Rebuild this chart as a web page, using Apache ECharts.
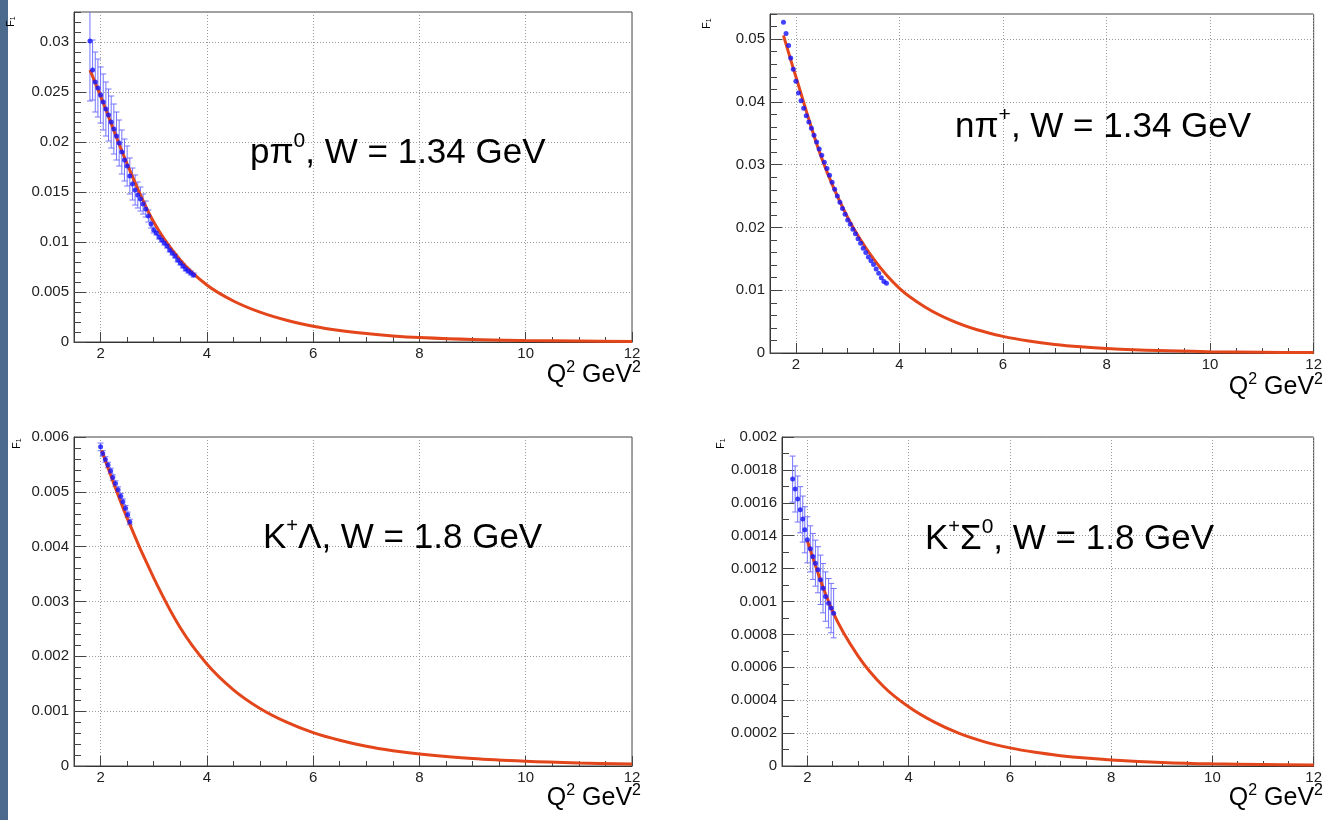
<!DOCTYPE html>
<html><head><meta charset="utf-8">
<script src="https://cdn.jsdelivr.net/npm/echarts@6/dist/echarts.min.js"></script>
<style>html,body{margin:0;padding:0;background:#fff}#chart{width:1325px;height:820px}</style>
</head><body><div id="chart"></div>
<script>
// ---------------- DATA ----------------
const xMajorTicks = [2, 4, 6, 8, 10, 12];

// p pi0, W = 1.34 GeV
const yTicks_ppi0 = [0, 0.005, 0.01, 0.015, 0.02, 0.025, 0.03];
const fitQ2_ppi0 = [1.8, 2.0, 2.5, 3.0, 3.5, 4.0, 4.5, 5, 5.5, 6, 6.5, 7, 7.5, 8, 9, 10, 11, 12];
const fitF1_ppi0 = [0.0272, 0.0246, 0.0178, 0.0120, 0.0082, 0.0057, 0.0041, 0.00298, 0.00217, 0.00158, 0.00115, 0.00084, 0.00061, 0.00045, 0.00025, 0.00015, 0.000093, 0.000058];
const q2_ppi0 = [1.80, 1.85, 1.90, 1.95, 2.00, 2.05, 2.10, 2.15, 2.20, 2.25, 2.30, 2.35, 2.40, 2.45, 2.50, 2.55, 2.60, 2.65, 2.70, 2.75, 2.80, 2.85, 2.90, 2.95, 3.00, 3.05, 3.10, 3.15, 3.20, 3.25, 3.30, 3.35, 3.40, 3.45, 3.50, 3.55, 3.60, 3.65, 3.70, 3.75];
const f1_ppi0 = [0.0301, 0.0272, 0.0260, 0.0254, 0.0247, 0.0240, 0.0233, 0.0227, 0.0220, 0.0213, 0.0206, 0.0199, 0.0190, 0.0182, 0.0176, 0.0166, 0.0158, 0.0152, 0.0147, 0.0143, 0.0138, 0.0133, 0.0126, 0.0118, 0.0112, 0.0109, 0.0105, 0.0102, 0.0099, 0.0096, 0.0092, 0.0089, 0.0086, 0.0082, 0.0079, 0.0076, 0.0073, 0.0071, 0.0069, 0.0067];
const err_ppi0 = [0.0060, 0.0030, 0.0030, 0.0029, 0.0028, 0.0028, 0.0027, 0.0026, 0.0026, 0.0025, 0.0024, 0.0023, 0.0022, 0.0021, 0.0020, 0.0018, 0.0016, 0.0015, 0.0013, 0.0012, 0.0010, 0.0008, 0.0006, 0.0004, 0.0003, 0.0002, 0.0002, 0.0002, 0.0002, 0.0002, 0.0002, 0.0002, 0.0002, 0.0002, 0.0002, 0.0002, 0.0002, 0.0002, 0.0002, 0.0002];

// n pi+, W = 1.34 GeV
const yTicks_npip = [0, 0.01, 0.02, 0.03, 0.04, 0.05];
const fitQ2_npip = [1.76, 2.0, 2.5, 3.0, 3.5, 4.0, 4.5, 5, 5.5, 6, 6.5, 7, 7.5, 8, 9, 10, 11, 12];
const fitF1_npip = [0.0506, 0.0440, 0.0310, 0.0216, 0.0150, 0.0103, 0.0073, 0.0052, 0.0037, 0.00265, 0.0019, 0.00136, 0.00098, 0.00071, 0.00038, 0.00021, 0.00012, 0.00007];
const q2_npip = [1.76, 1.81, 1.86, 1.90, 1.95, 2.00, 2.05, 2.10, 2.15, 2.20, 2.25, 2.30, 2.35, 2.40, 2.45, 2.50, 2.55, 2.60, 2.65, 2.70, 2.75, 2.80, 2.85, 2.90, 2.95, 3.00, 3.05, 3.10, 3.15, 3.20, 3.25, 3.30, 3.35, 3.40, 3.45, 3.50, 3.55, 3.60, 3.65, 3.70, 3.75];
const f1_npip = [0.0527, 0.0509, 0.0490, 0.0470, 0.0452, 0.0433, 0.0414, 0.0402, 0.0390, 0.0378, 0.0368, 0.0358, 0.0347, 0.0336, 0.0325, 0.0315, 0.0304, 0.0294, 0.0283, 0.0272, 0.0261, 0.0250, 0.0240, 0.0230, 0.0221, 0.0212, 0.0205, 0.0197, 0.0190, 0.0182, 0.0175, 0.0167, 0.0160, 0.0153, 0.0147, 0.0141, 0.0134, 0.0127, 0.0120, 0.0114, 0.0111];
const err_npip = [];

// K+ Lambda, W = 1.8 GeV
const yTicks_klam = [0, 0.001, 0.002, 0.003, 0.004, 0.005, 0.006];
const fitQ2_klam = [2.02, 2.5, 3.0, 3.5, 4.0, 4.5, 5, 5.5, 6, 6.5, 7, 7.5, 8, 9, 10, 11, 12];
const fitF1_klam = [0.00576, 0.00452, 0.00343, 0.00252, 0.00186, 0.00139, 0.00105, 0.00080, 0.00061, 0.00047, 0.00036, 0.00028, 0.00022, 0.000135, 0.000086, 0.000056, 0.000037];
const q2_klam = [2.00, 2.04, 2.09, 2.14, 2.19, 2.23, 2.28, 2.33, 2.38, 2.42, 2.47, 2.51, 2.55];
const f1_klam = [0.00582, 0.00570, 0.00559, 0.00549, 0.00538, 0.00526, 0.00515, 0.00504, 0.00492, 0.00482, 0.00470, 0.00458, 0.00445];
const err_klam = [0.00007, 0.00005, 0.00005, 0.00005, 0.00005, 0.00005, 0.00005, 0.00005, 0.00005, 0.00005, 0.00005, 0.00005, 0.00005];

// K+ Sigma0, W = 1.8 GeV
const yTicks_ksig = [0, 0.0002, 0.0004, 0.0006, 0.0008, 0.001, 0.0012, 0.0014, 0.0016, 0.0018, 0.002];
const fitQ2_ksig = [2.0, 2.5, 3.0, 3.5, 4.0, 4.5, 5, 5.5, 6, 6.5, 7, 7.5, 8, 9, 10, 11, 12];
const fitF1_ksig = [0.00137, 0.00094, 0.00067, 0.000485, 0.00036, 0.000268, 0.000198, 0.000147, 0.00011, 0.000083, 0.000063, 0.000048, 0.000037, 0.000022, 0.000013, 0.0000085, 0.0000055];
const q2_ksig = [1.71, 1.76, 1.81, 1.86, 1.91, 1.95, 2.00, 2.06, 2.11, 2.16, 2.21, 2.26, 2.31, 2.36, 2.42, 2.47, 2.52];
const f1_ksig = [0.001744, 0.001684, 0.001623, 0.001558, 0.001501, 0.001436, 0.001375, 0.00132, 0.001274, 0.001233, 0.001193, 0.001132, 0.001081, 0.00103, 0.00099, 0.00096, 0.000929];
const err_ksig = [0.00014, 0.00014, 0.00014, 0.00014, 0.00014, 0.00014, 0.00014, 0.00014, 0.00014, 0.00014, 0.00014, 0.00015, 0.00015, 0.00015, 0.00015, 0.00015, 0.00015];

const titleTexts = [
  '{m|pπ}{s|0}{m|, W = 1.34 GeV}',
  '{m|nπ}{s|+}{m|, W = 1.34 GeV}',
  '{m|K}{p|+}{m|Λ, W = 1.8 GeV}',
  '{m|K}{p|+}{m|Σ}{s|0}{m|, W = 1.8 GeV}'
];
const xTitleText = '{m|Q}{s|2}{m| GeV}{s|2}';
const yTitleText = '{f|F}{b|1}';

// ---------------- LAYOUT ----------------
const panels = [
  { grid: { left: 74, top: 12, width: 558, height: 330 }, yMax: 0.033, yMinor: 0.001,
    yTicks: yTicks_ppi0, fx: fitQ2_ppi0, fy: fitF1_ppi0, dx: q2_ppi0, dy: f1_ppi0, de: err_ppi0,
    title: [250, 131], xt: [641, 360], yt: [11, 27] },
  { grid: { left: 770, top: 14, width: 545, height: 339 }, yMax: 0.054, yMinor: 0.002,
    yTicks: yTicks_npip, fx: fitQ2_npip, fy: fitF1_npip, dx: q2_npip, dy: f1_npip, de: err_npip,
    title: [955, 105], xt: [1323, 372], yt: [707, 29] },
  { grid: { left: 74, top: 437, width: 558, height: 329 }, yMax: 0.006, yMinor: 0.0002,
    yTicks: yTicks_klam, fx: fitQ2_klam, fy: fitF1_klam, dx: q2_klam, dy: f1_klam, de: err_klam,
    title: [263, 516], xt: [641, 783], yt: [17, 449] },
  { grid: { left: 782, top: 437, width: 534, height: 329 }, yMax: 0.002, yMinor: 0.0001,
    yTicks: yTicks_ksig, fx: fitQ2_ksig, fy: fitF1_ksig, dx: q2_ksig, dy: f1_ksig, de: err_ksig,
    title: [925, 517], xt: [1323, 783], yt: [721, 449] }
];

const TICK_FONT = 'Liberation Sans';
const FIT_COLOR = '#e4461c';
const PT_COLOR = '#1414ff';
const ERR_COLOR = '#7474ff';

const grids = [], xAxes = [], yAxes = [], series = [], graphics = [];

graphics.push({ type: 'rect', left: 0, top: 0, shape: { x: 0, y: 0, width: 8, height: 820 }, style: { fill: '#4b6a8e' }, z: 100 });

panels.forEach((p, i) => {
  grids.push(Object.assign({ show: true, borderColor: '#444', borderWidth: 1, backgroundColor: 'transparent' }, p.grid));
  xAxes.push({
    gridIndex: i, type: 'value', position: 'bottom', min: 1.5, max: 12, interval: 0.5,
    axisLine: { show: true, onZero: false, lineStyle: { color: '#333', width: 1 } },
    axisTick: { show: true, inside: true, length: 10, customValues: xMajorTicks, lineStyle: { color: '#444' } },
    axisLabel: { show: true, customValues: xMajorTicks, margin: 4, fontFamily: TICK_FONT, fontSize: 15, color: '#222' },
    splitLine: { show: true, lineStyle: { color: '#9a9a9a', type: [1, 2], width: 1 } }
  });
  xAxes.push({
    gridIndex: i, type: 'value', position: 'bottom', min: 1.5, max: 12, interval: 0.5,
    axisLine: { show: false }, axisLabel: { show: false }, splitLine: { show: false },
    axisTick: { show: true, inside: true, length: 5, lineStyle: { color: '#444' } }
  });
  yAxes.push({
    gridIndex: i, type: 'value', position: 'left', min: 0, max: p.yMax, interval: p.yMinor,
    axisLine: { show: true, onZero: false, lineStyle: { color: '#333', width: 1 } },
    axisTick: { show: true, inside: true, length: 12, customValues: p.yTicks, lineStyle: { color: '#444' } },
    axisLabel: { show: true, customValues: p.yTicks, margin: 5, fontFamily: TICK_FONT, fontSize: 15, color: '#222',
      formatter: v => String(+v.toPrecision(6)) },
    splitLine: { show: true, lineStyle: { color: '#9a9a9a', type: [1, 2], width: 1 } }
  });
  yAxes.push({
    gridIndex: i, type: 'value', position: 'left', min: 0, max: p.yMax, interval: p.yMinor,
    axisLine: { show: false }, axisLabel: { show: false }, splitLine: { show: false },
    axisTick: { show: true, inside: true, length: 7, lineStyle: { color: '#444' } }
  });
  const xi = 2 * i, yi = 2 * i;
  if (p.de.length) {
    series.push({
      type: 'custom', xAxisIndex: xi, yAxisIndex: yi, clip: true, z: 2, silent: true,
      data: p.dx.map((x, k) => [x, p.dy[k], p.de[k]]),
      encode: { x: 0, y: 1 },
      renderItem: (params, api) => {
        const x = api.value(0), y = api.value(1), e = api.value(2);
        const a = api.coord([x, y + e]), b = api.coord([x, y - e]);
        const w = 3, st = { stroke: ERR_COLOR, lineWidth: 1 };
        return { type: 'group', children: [
          { type: 'line', shape: { x1: a[0], y1: a[1], x2: b[0], y2: b[1] }, style: st },
          { type: 'line', shape: { x1: a[0] - w, y1: a[1], x2: a[0] + w, y2: a[1] }, style: st },
          { type: 'line', shape: { x1: b[0] - w, y1: b[1], x2: b[0] + w, y2: b[1] }, style: st }
        ] };
      }
    });
  }
  series.push({
    type: 'line', xAxisIndex: xi, yAxisIndex: yi, z: 3, smooth: 0.35,
    showSymbol: false, symbol: 'none', silent: true,
    lineStyle: { color: FIT_COLOR, width: 3 },
    data: p.fx.map((x, k) => [x, p.fy[k]])
  });
  series.push({
    type: 'scatter', xAxisIndex: xi, yAxisIndex: yi, z: 4, symbol: 'circle', symbolSize: 5, silent: true,
    itemStyle: { color: PT_COLOR },
    data: p.dx.map((x, k) => [x, p.dy[k]])
  });

  graphics.push({
    type: 'text', x: p.title[0], y: p.title[1], z: 50,
    style: { text: titleTexts[i], align: 'left', verticalAlign: 'top', textAlign: 'left', textVerticalAlign: 'top',
      rich: {
        m: { fontFamily: 'Liberation Sans', fontSize: 35, lineHeight: 40, color: '#000', verticalAlign: 'bottom' },
        s: { fontFamily: 'Liberation Sans', fontSize: 21, lineHeight: 21, color: '#000', verticalAlign: 'top' },
        p: { fontFamily: 'Liberation Sans', fontSize: 20, lineHeight: 26, color: '#000', verticalAlign: 'top' }
      } }
  });
  graphics.push({
    type: 'text', x: p.xt[0], y: p.xt[1], z: 50,
    style: { text: xTitleText, align: 'right', verticalAlign: 'top', textAlign: 'right', textVerticalAlign: 'top',
      rich: {
        m: { fontFamily: 'Liberation Sans', fontSize: 25, lineHeight: 28, color: '#111', verticalAlign: 'bottom' },
        s: { fontFamily: 'Liberation Sans', fontSize: 16, lineHeight: 16, color: '#111', verticalAlign: 'top' }
      } }
  });
  graphics.push({
    type: 'text', x: p.yt[0], y: p.yt[1], rotation: Math.PI / 2, z: 120,
    style: { text: yTitleText, align: 'left', verticalAlign: 'middle', textAlign: 'left', textVerticalAlign: 'middle',
      rich: {
        f: { fontFamily: 'Liberation Sans', fontSize: 11, lineHeight: 12, color: '#333', verticalAlign: 'top' },
        b: { fontFamily: 'Liberation Sans', fontSize: 7, lineHeight: 7, color: '#333', verticalAlign: 'bottom' }
      } }
  });
});

const chart = echarts.init(document.getElementById('chart'), null, { renderer: 'canvas' });
chart.setOption({
  animation: false,
  backgroundColor: '#fff',
  grid: grids, xAxis: xAxes, yAxis: yAxes, series: series, graphic: { elements: graphics }
});
</script>
</body></html>
